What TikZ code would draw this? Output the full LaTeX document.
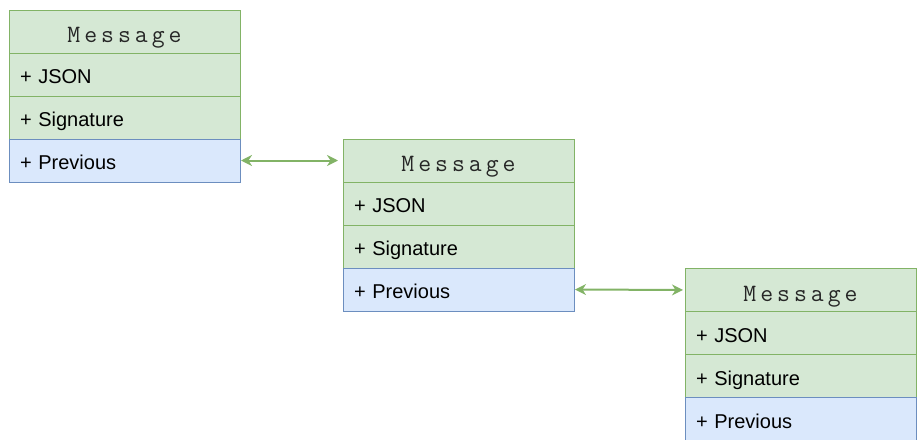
\documentclass[tikz,border=0pt]{standalone}
\usepackage{fontspec}
\setmainfont{Liberation Sans}
\newfontfamily\headfont[LetterSpace=16]{Latin Modern Mono}
\usetikzlibrary{positioning,arrows.meta}

\definecolor{fieldgreen}{HTML}{D5E8D4}
\definecolor{edgegreen}{HTML}{82B366}
\definecolor{fieldblue}{HTML}{DAE8FC}
\definecolor{edgeblue}{HTML}{6C8EBF}

\tikzset{
  field/.style={draw=edgegreen,fill=fieldgreen,line width=1pt,
    minimum width=231pt,minimum height=43pt,text width=209pt,
    text height=18pt,text depth=0pt,
    inner xsep=11pt,inner ysep=0pt,outer sep=0pt,align=left,
    font=\fontsize{20}{24}\selectfont},
  header/.style={field,align=center,text=black!85,
    text height=22pt,text depth=0pt,
    font=\headfont\fontsize{25}{28}\selectfont},
  link/.style={field,draw=edgeblue,fill=fieldblue},
  chain/.style={{Stealth[length=11pt,width=11pt,inset=3.5pt]}-{Stealth[length=11pt,width=11pt,inset=3.5pt]},
    draw=edgegreen,line width=2pt}
}

\begin{document}
\begin{tikzpicture}[x=1pt,y=-1pt]
  \useasboundingbox (0,0) rectangle (918,439);
  % first message
  \node[header,anchor=north west] (mOneHead) at (9,10) {Message};
  \node[field,below=0pt of mOneHead] (mOneJson) {+ JSON};
  \node[field,below=0pt of mOneJson] (mOneSig) {+ Signature};
  \node[link,below=0pt of mOneSig] (mOnePrev) {+ Previous};
  % second message
  \node[header,anchor=north west] (mTwoHead) at (343,139) {Message};
  \node[field,below=0pt of mTwoHead] (mTwoJson) {+ JSON};
  \node[field,below=0pt of mTwoJson] (mTwoSig) {+ Signature};
  \node[link,below=0pt of mTwoSig] (mTwoPrev) {+ Previous};
  % third message
  \node[header,anchor=north west] (mThreeHead) at (685,268.5) {Message};
  \node[field,below=0pt of mThreeHead] (mThreeJson) {+ JSON};
  \node[field,below=0pt of mThreeJson] (mThreeSig) {+ Signature};
  \node[link,below=0pt of mThreeSig] (mThreePrev) {+ Previous};
  % links between messages
  \draw[chain,shorten <=1pt,shorten >=5pt] (mOnePrev.east) -- (mTwoHead.west);
  \draw[chain,shorten <=1pt,shorten >=2pt] (mTwoPrev.east) -- (mThreeHead.west);
\end{tikzpicture}
\end{document}
